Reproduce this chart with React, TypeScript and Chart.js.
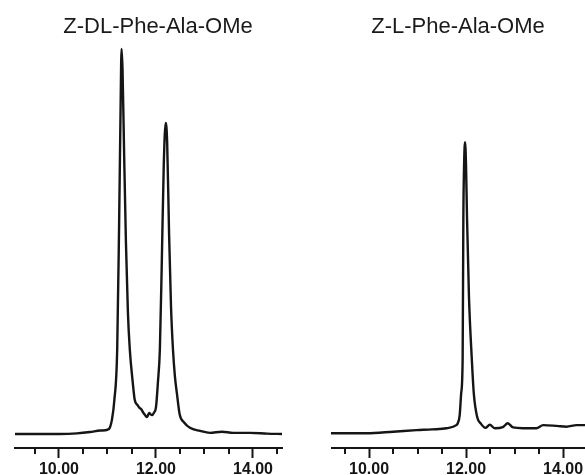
import React, { useEffect, useRef } from 'react';
import { Chart, registerables } from 'chart.js';

Chart.register(...registerables);

// ---- data ----
const leftTitle = 'Z-DL-Phe-Ala-OMe';
const rightTitle = 'Z-L-Phe-Ala-OMe';
const majorTicks = [10, 12, 14];
const minorTicks = [9.5, 10.5, 11, 11.5, 12.5, 13, 13.5, 14.5];

const leftTimes = [
  9.09, 9.6, 10.0, 10.37, 10.64, 10.85, 11.0, 11.05, 11.09, 11.14, 11.2, 11.24, 11.27, 11.29,
  11.31, 11.34, 11.38, 11.42, 11.46, 11.52, 11.56, 11.62, 11.66, 11.7, 11.73, 11.77, 11.81,
  11.84, 11.86, 11.89, 11.92, 11.96, 12.0, 12.04, 12.08, 12.12, 12.16, 12.2, 12.23, 12.27,
  12.31, 12.35, 12.39, 12.43, 12.49, 12.58, 12.7, 12.91, 13.11, 13.36, 13.59, 13.94, 14.29, 14.6,
];
const leftSignal = [
  0, 0, 0, 0.15, 0.5, 0.9, 1.1, 1.7, 3.6, 8.6, 22, 55, 85, 100.3,
  95, 75, 50, 32, 22, 13.5, 9, 7.5, 6.8, 6.4, 5.7, 5.0, 4.4,
  5.0, 5.5, 5.1, 4.9, 5.6, 7, 13.5, 22, 45, 70, 81, 76, 52,
  33, 22, 15, 10.7, 5, 3, 1.6, 0.8, 0.3, 0.6, 0.3, 0.3, 0.1, 0,
];

const rightTimes = [
  9.216, 9.95, 10.5, 10.98, 11.3, 11.6, 11.8, 11.83, 11.87, 11.9, 11.93, 11.945, 11.96, 11.98,
  12.0, 12.02, 12.06, 12.12, 12.16, 12.23, 12.3, 12.4, 12.49, 12.59, 12.76, 12.86, 12.97,
  13.17, 13.45, 13.59, 13.87, 14.07, 14.28, 14.453,
];
const rightSignal = [
  0.2, 0.2, 0.6, 1.0, 1.2, 1.5, 2.3, 2.8, 5, 10.6, 19.3, 56.5, 70, 76,
  70, 56.5, 36, 19.3, 10.6, 4.4, 2.8, 1.6, 2.4, 1.5, 1.8, 2.8, 1.7,
  1.5, 1.5, 2.3, 2.1, 1.9, 2.3, 2.3,
];

const INK = '#151515';
const FONT = '"Liberation Sans", Arial, sans-serif';

const minorTickPlugin = {
  id: 'minorTicks',
  afterDraw(chart: any) {
    const xs = chart.scales.x;
    const ctx = chart.ctx;
    ctx.save();
    ctx.strokeStyle = INK;
    ctx.lineWidth = 2;
    minorTicks.forEach((v) => {
      if (v < xs.min || v > xs.max) return;
      const px = Math.round(xs.getPixelForValue(v));
      ctx.beginPath();
      ctx.moveTo(px, xs.top);
      ctx.lineTo(px, xs.top + 6);
      ctx.stroke();
    });
    ctx.restore();
  },
};

const panelTitlePlugin = {
  id: 'panelTitle',
  afterDraw(chart: any, _args: any, opts: any) {
    const ctx = chart.ctx;
    ctx.save();
    ctx.fillStyle = '#1a1a1a';
    ctx.font = `normal 22px ${FONT}`;
    ctx.textAlign = 'center';
    ctx.textBaseline = 'alphabetic';
    ctx.fillText(opts.text, chart.width / 2, 33);
    ctx.restore();
  },
};

function makeConfig(
  times: number[],
  signal: number[],
  title: string,
  xMin: number,
  xMax: number,
  padL: number,
  padR: number,
): any {
  return {
    type: 'line',
    data: {
      datasets: [
        {
          data: times.map((t, i) => ({ x: t, y: signal[i] })),
          borderColor: INK,
          borderWidth: 2.4,
          pointRadius: 0,
          fill: false,
          cubicInterpolationMode: 'monotone',
        },
      ],
    },
    options: {
      animation: false,
      responsive: false,
      devicePixelRatio: 1,
      layout: { padding: { left: padL, right: padR, top: 40, bottom: 0 } },
      plugins: {
        legend: { display: false },
        tooltip: { enabled: false },
        title: { display: false },
        panelTitle: { text: title },
      },
      scales: {
        x: {
          type: 'linear',
          min: xMin,
          max: xMax,
          afterBuildTicks: (scale: any) => {
            scale.ticks = majorTicks.map((v) => ({ value: v }));
          },
          ticks: {
            color: INK,
            padding: 0,
            maxRotation: 0,
            autoSkip: false,
            font: { family: FONT, size: 16, weight: 'bold', lineHeight: '24px' },
            callback: (v: any) => Number(v).toFixed(2),
          },
          grid: {
            display: true,
            drawOnChartArea: false,
            drawTicks: true,
            tickLength: 10,
            tickWidth: 2,
            tickColor: INK,
          },
          border: { display: true, color: INK, width: 2 },
        },
        y: {
          type: 'linear',
          display: false,
          min: -3.65,
          max: 102.6,
        },
      },
    },
    plugins: [minorTickPlugin, panelTitlePlugin],
  };
}

function Panel(props: {
  times: number[];
  signal: number[];
  title: string;
  xMin: number;
  xMax: number;
  padL: number;
  padR: number;
  left: number;
  width: number;
}) {
  const ref = useRef<HTMLCanvasElement | null>(null);
  useEffect(() => {
    if (!ref.current) return;
    const chart = new Chart(
      ref.current,
      makeConfig(props.times, props.signal, props.title, props.xMin, props.xMax, props.padL, props.padR),
    );
    return () => chart.destroy();
  }, []);
  return (
    <canvas
      ref={ref}
      width={props.width}
      height={482}
      style={{ position: 'absolute', left: props.left, top: 0, width: props.width, height: 482 }}
    />
  );
}

export default function App() {
  return (
    <div
      style={{
        position: 'fixed',
        left: 0,
        top: 0,
        width: 585,
        height: 475,
        overflow: 'hidden',
        background: '#ffffff',
      }}
    >
      <Panel
        times={leftTimes}
        signal={leftSignal}
        title={leftTitle}
        xMin={9.093}
        xMax={14.598}
        padL={15}
        padR={34}
        left={0}
        width={316}
      />
      <Panel
        times={rightTimes}
        signal={rightSignal}
        title={rightTitle}
        xMin={9.216}
        xMax={14.453}
        padL={0}
        padR={0}
        left={331}
        width={254}
      />
    </div>
  );
}
